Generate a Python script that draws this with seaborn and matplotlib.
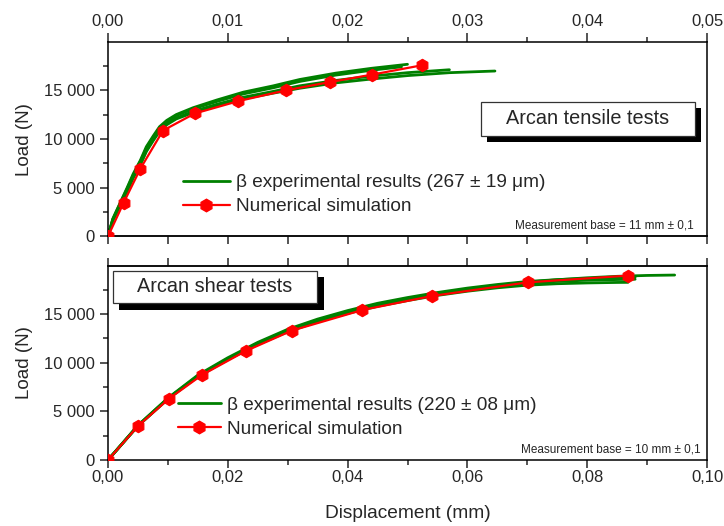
import numpy as np
import pandas as pd
import matplotlib
matplotlib.use("Agg")
import matplotlib.pyplot as plt
import matplotlib.patches as mpatches
import matplotlib.transforms as mtransforms
from matplotlib.lines import Line2D
from matplotlib.ticker import MultipleLocator, FuncFormatter
import seaborn as sns

# ---------------- data ----------------
# Arcan tensile tests: experimental curves (displacement mm, load N)
tensile_grid = [0, 0.0004, 0.001, 0.0016, 0.0021, 0.0027, 0.0032, 0.0038, 0.0043, 0.0049,
                0.0057, 0.0071, 0.0091, 0.0113, 0.0138, 0.016, 0.019, 0.022, 0.025, 0.0285, 0.0323]
tensile_exp1_x = tensile_grid[:19]
tensile_exp1_y = [0, 1800, 3400, 5000, 6400, 7800, 9200, 10350, 11250, 11900,
                  12500, 13200, 14000, 14800, 15450, 16100, 16750, 17250, 17660]
tensile_exp2_x = tensile_grid[:18] + [0.0245]
tensile_exp2_y = [0, 1750, 3330, 4900, 6280, 7680, 9050, 10200, 11120, 11780,
                  12400, 13080, 13850, 14620, 15250, 15900, 16550, 17050, 17400]
tensile_exp3_x = tensile_grid[:20]
tensile_exp3_y = [0, 1650, 3180, 4700, 6050, 7420, 8780, 9950, 10850, 11530,
                  12150, 12820, 13560, 14280, 14880, 15450, 16000, 16450, 16800, 17100]
tensile_exp4_x = tensile_grid
tensile_exp4_y = [0, 1600, 3100, 4620, 5980, 7350, 8700, 9870, 10780, 11450,
                  12050, 12700, 13420, 14120, 14700, 15200, 15750, 16150, 16500, 16800, 16970]

# Arcan tensile tests: numerical simulation
tensile_sim_x = [0, 0.00131, 0.0027, 0.00459, 0.00724, 0.01088, 0.01483, 0.01853, 0.02204, 0.02621]
tensile_sim_y = [0, 3460, 6940, 10860, 12610, 13880, 14980, 15840, 16600, 17560]

# Arcan shear tests: experimental curves
shear_exp1_x = [0, 0.005, 0.010, 0.015, 0.020, 0.025, 0.030, 0.035, 0.040, 0.045, 0.050, 0.055, 0.060, 0.065, 0.070, 0.075, 0.080, 0.085, 0.088]
shear_exp1_y = [0, 3560, 6360, 8720, 10500, 12080, 13420, 14470, 15340, 16090, 16680, 17200, 17650, 18020, 18330, 18520, 18640, 18720, 18760]
shear_exp2_x = [0, 0.005, 0.010, 0.015, 0.020, 0.025, 0.030, 0.035, 0.040, 0.045, 0.050, 0.055, 0.060, 0.065, 0.070, 0.075, 0.080, 0.085, 0.090, 0.0946]
shear_exp2_y = [0, 3520, 6300, 8600, 10350, 11920, 13250, 14320, 15170, 15920, 16520, 17070, 17520, 17920, 18260, 18510, 18710, 18860, 18950, 18990]
shear_exp3_x = [0, 0.005, 0.010, 0.015, 0.020, 0.025, 0.030, 0.035, 0.040, 0.045, 0.050, 0.055, 0.060, 0.065, 0.070, 0.075, 0.080, 0.085, 0.0868]
shear_exp3_y = [0, 3500, 6260, 8560, 10300, 11860, 13160, 14200, 15050, 15780, 16370, 16900, 17330, 17680, 17950, 18100, 18180, 18230, 18240]
shear_exp4_x = [0, 0.005, 0.010, 0.015, 0.020, 0.025, 0.030, 0.035, 0.040, 0.045, 0.050, 0.055, 0.060, 0.065, 0.070, 0.075, 0.080, 0.085, 0.088]
shear_exp4_y = [0, 3530, 6320, 8640, 10400, 11970, 13300, 14350, 15200, 15940, 16540, 17060, 17500, 17860, 18140, 18340, 18460, 18530, 18560]

# Arcan shear tests: numerical simulation
shear_sim_x = [0, 0.00506, 0.01018, 0.01569, 0.02299, 0.03067, 0.04246, 0.05409, 0.07007, 0.08676]
shear_sim_y = [0, 3520, 6290, 8730, 11190, 13280, 15400, 16840, 18240, 18930]

tensile_exp = [(tensile_exp1_x, tensile_exp1_y), (tensile_exp2_x, tensile_exp2_y),
               (tensile_exp3_x, tensile_exp3_y), (tensile_exp4_x, tensile_exp4_y)]
shear_exp = [(shear_exp1_x, shear_exp1_y), (shear_exp2_x, shear_exp2_y),
             (shear_exp3_x, shear_exp3_y), (shear_exp4_x, shear_exp4_y)]

exp_label_tensile = "β experimental results (267 ± 19 μm)"
exp_label_shear = "β experimental results (220 ± 08 μm)"
sim_label = "Numerical simulation"
title_tensile = "Arcan tensile tests"
title_shear = "Arcan shear tests"
base_tensile = "Measurement base = 11 mm ± 0,1"
base_shear = "Measurement base = 10 mm ± 0,1"

# ---------------- style ----------------
sns.set_style("ticks")
plt.rcParams["font.family"] = ["Liberation Sans", "DejaVu Sans"]
plt.rcParams["axes.linewidth"] = 1.1

GREEN = "#008000"
RED = "#ff0000"

fig = plt.figure(figsize=(7.24, 5.26), dpi=100)
W, H = 724, 526
def ax_rect(l, t, r, b):
    return [l / W, 1 - b / H, (r - l) / W, (b - t) / H]

ax_t = fig.add_axes(ax_rect(108, 42, 707, 236.3))
ax_b = fig.add_axes(ax_rect(108, 265.7, 707, 460))

load_fmt = FuncFormatter(lambda v, p: f"{int(round(v)):,}".replace(",", " "))
disp_fmt = FuncFormatter(lambda v, p: f"{v:.2f}".replace(".", ","))


def draw_panel(ax, exp_curves, sim_x, sim_y):
    for cx, cy in exp_curves:
        sns.lineplot(x=cx, y=cy, ax=ax, color=GREEN, lw=2.0, sort=False,
                     estimator=None, legend=False)
    sns.lineplot(x=sim_x, y=sim_y, ax=ax, color=RED, lw=1.6, sort=False,
                 estimator=None, legend=False, marker="h", markersize=9,
                 markeredgecolor=RED, markerfacecolor=RED, zorder=5)
    ax.set_ylim(0, 19950)
    ax.yaxis.set_major_locator(MultipleLocator(5000))
    ax.yaxis.set_minor_locator(MultipleLocator(2500))
    ax.yaxis.set_major_formatter(load_fmt)
    ax.tick_params(axis="y", which="major", length=5.8, width=1.1, labelsize=12, pad=3.5, direction="out")
    ax.tick_params(axis="y", which="minor", length=3.4, width=1.1, direction="out")
    ax.set_ylabel("Load (N)", fontsize=13.5, labelpad=8)
    for s in ax.spines.values():
        s.set_color("black")


def legend_for(ax, exp_label, anchor, hlen):
    handles = [Line2D([], [], color=GREEN, lw=2.0),
               Line2D([], [], color=RED, lw=1.6, marker="h", markersize=9,
                      markeredgecolor=RED, markerfacecolor=RED)]
    ax.legend(handles, [exp_label, sim_label], loc="center left", bbox_to_anchor=anchor,
              frameon=False, fontsize=13.7, handlelength=hlen, handletextpad=0.35,
              labelspacing=0.34, borderpad=0, borderaxespad=0)


def title_box(ax, x0, y0, x1, y1, text, shadow=6):
    off = mtransforms.offset_copy(ax.transAxes, fig=fig, x=shadow, y=-shadow, units="dots")
    ax.add_patch(mpatches.Rectangle((x0, y0), x1 - x0, y1 - y0, transform=off,
                                    facecolor="black", edgecolor="black", lw=0, zorder=8, clip_on=False))
    ax.add_patch(mpatches.Rectangle((x0, y0), x1 - x0, y1 - y0, transform=ax.transAxes,
                                    facecolor="white", edgecolor="#333333", lw=0.9, zorder=9, clip_on=False))
    ax.text((x0 + x1) / 2, (y0 + y1) / 2, text, transform=ax.transAxes, ha="center",
            va="center", fontsize=14.3, zorder=10)


# ---- top panel: tensile ----
draw_panel(ax_t, tensile_exp, tensile_sim_x, tensile_sim_y)
ax_t.set_xlim(0, 0.05)
ax_t.xaxis.tick_top()
ax_t.xaxis.set_major_locator(MultipleLocator(0.01))
ax_t.xaxis.set_minor_locator(MultipleLocator(0.005))
ax_t.xaxis.set_major_formatter(disp_fmt)
ax_t.tick_params(axis="x", which="major", length=6.2, width=1.1, labelsize=12, pad=3,
                 top=True, bottom=False, labeltop=True, labelbottom=False)
ax_t.tick_params(axis="x", which="minor", length=3.4, width=1.1, top=True, bottom=False)
ax_t.set_xlabel("")
sec_t = ax_t.secondary_xaxis("bottom")
sec_t.xaxis.set_major_locator(MultipleLocator(0.005))
sec_t.tick_params(axis="x", length=6.0, width=1.1, labelbottom=False)
sec_t.spines["bottom"].set_linewidth(1.1)

legend_for(ax_t, exp_label_tensile, ((183 - 108) / 599, 0.214), 2.45)
title_box(ax_t, 0.6227, 0.5178, 0.9795, 0.6927, title_tensile)
ax_t.text(0.978, 0.058, base_tensile, transform=ax_t.transAxes, ha="right", va="center", fontsize=8.5)

# ---- bottom panel: shear ----
draw_panel(ax_b, shear_exp, shear_sim_x, shear_sim_y)
ax_b.set_xlim(0, 0.10)
ax_b.xaxis.set_major_locator(MultipleLocator(0.02))
ax_b.xaxis.set_minor_locator(MultipleLocator(0.01))
ax_b.xaxis.set_major_formatter(disp_fmt)
ax_b.tick_params(axis="x", which="major", length=5.8, width=1.1, labelsize=12, pad=1.5,
                 top=False, bottom=True)
ax_b.tick_params(axis="x", which="minor", length=3.4, width=1.1, top=False, bottom=True)
ax_b.set_xlabel("Displacement (mm)", fontsize=13.8, labelpad=14)
sec_b = ax_b.secondary_xaxis("top")
sec_b.xaxis.set_major_locator(MultipleLocator(0.01))
sec_b.tick_params(axis="x", length=6.0, width=1.1, labeltop=False)
sec_b.spines["top"].set_linewidth(1.1)

legend_for(ax_b, exp_label_shear, ((178 - 108) / 599, 0.221), 2.25)
title_box(ax_b, 0.0078, 0.8065, 0.3494, 0.9743, title_shear, shadow=6.5)
ax_b.text(0.99, 0.0566, base_shear, transform=ax_b.transAxes, ha="right", va="center", fontsize=8.5)

fig.savefig("out.png", dpi=100)
